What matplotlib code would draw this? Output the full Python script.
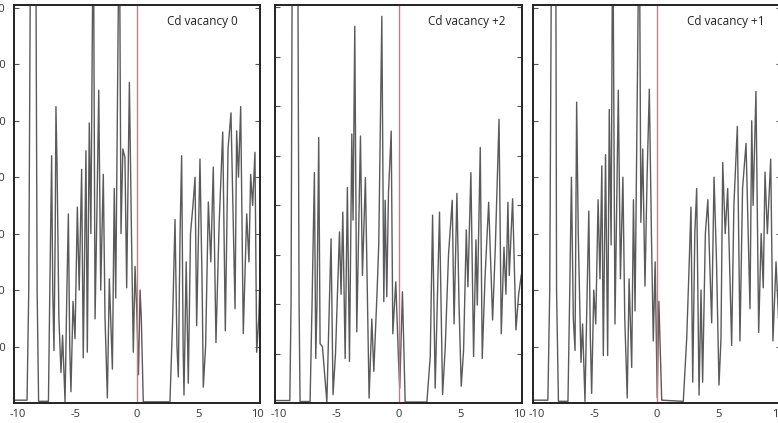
import matplotlib
matplotlib.use("Agg")
import matplotlib.pyplot as plt
from matplotlib.transforms import ScaledTranslation

# ---------------- data (polyline vertices (energy, DOS)) ----------------
titles = ["Cd vacancy 0", "Cd vacancy +2", "Cd vacancy +1"]
xticks = [-10, -5, 0, 5, 10]
xtick_labels = ["-10", "-5", "0", "5", "10"]

# Panel 1: Cd vacancy 0
dos_vac0 = [
    (-10, 0.5), (-8.94, 0.5), (-8.8, 20), (-8.64, 90), (-8.24, 90), (-8.12, 20), (-8.0, 0.3), (-7.2, 0.3),
    (-7.1, 18), (-6.94, 43.8), (-6.85, 20), (-6.75, 9.3), (-6.65, 30), (-6.59, 52.5), (-6.5, 42),
    (-6.35, 15), (-6.18, 5.4), (-6.05, 12), (-5.85, 0.2),
    (-5.7, 20), (-5.58, 33.5), (-5.47, 10), (-5.37, 2), (-5.2, 18), (-5.04, 11.4), (-4.85, 34.7),
    (-4.7, 20), (-4.5, 41.4), (-4.37, 8), (-4.15, 44.7), (-4.04, 9), (-3.88, 49.6), (-3.75, 30),
    (-3.55, 90), (-3.41, 14.9), (-3.25, 35), (-3.11, 55.4), (-2.95, 20), (-2.74, 40.5), (-2.6, 15),
    (-2.41, 0.9),
    (-2.25, 22), (-2.0, 6), (-1.85, 38), (-1.73, 18.6), (-1.44, 90), (-1.3, 30), (-1.15, 45),
    (-0.98, 43.5), (-0.84, 20.4), (-0.62, 56.8), (-0.45, 30), (-0.3, 9), (-0.16, 24.2), (0.0, 15),
    (0.12, 5), (0.25, 20), (0.35, 15), (0.51, 0.2), (2.68, 0.2),
    (2.9, 15), (3.09, 32.5), (3.25, 10), (3.36, 4.6), (3.5, 30), (3.63, 43.8), (3.75, 10), (3.82, 1.4),
    (4.0, 25), (4.17, 3.5), (4.35, 30), (4.55, 35), (4.72, 40), (4.85, 13.7), (5.12, 43.2), (5.3, 20),
    (5.39, 2.8), (5.58, 10.2), (5.8, 35.6), (6.0, 25), (6.2, 41.8), (6.42, 10.7), (6.67, 31.2),
    (6.97, 48), (7.18, 12.8), (7.4, 45), (7.64, 51.4), (7.97, 16.7), (8.1, 48.2), (8.25, 40),
    (8.43, 52.5), (8.64, 12.3), (8.92, 33.5), (9.1, 25), (9.24, 40.5), (9.4, 35), (9.59, 44.4),
    (9.73, 9), (9.9, 15), (10.0, 22),
]

# Panel 2: Cd vacancy +2
dos_vac2 = [
    (-10, 0.5), (-8.8, 0.5), (-8.7, 20), (-8.6, 95), (-8.16, 95), (-8.05, 20), (-7.97, 0.3), (-7.16, 0.3),
    (-7.0, 20), (-6.81, 46.6), (-6.7, 9), (-6.6, 20), (-6.46, 53.7), (-6.35, 12), (-6.16, 11.4),
    (-5.8, 0.2),
    (-5.6, 20), (-5.46, 33.2), (-5.3, 1.7), (-5.1, 10), (-4.78, 34.6), (-4.65, 22), (-4.51, 38.6),
    (-4.32, 9), (-4.14, 43.6), (-3.97, 8.4), (-3.78, 54.4), (-3.68, 37), (-3.54, 76.2), (-3.38, 14.4),
    (-3.08, 54), (-2.92, 25.8), (-2.68, 45.6), (-2.38, 1),
    (-2.16, 17), (-2.0, 6.4), (-1.73, 22.8), (-1.6, 32), (-1.35, 78.2), (-1.19, 20.5), (-1.08, 41),
    (-0.95, 21.5), (-0.81, 42.6), (-0.59, 55), (-0.46, 14), (-0.22, 24.5), (0.0, 8.7), (0.1, 3),
    (0.32, 22.5), (0.54, 0.2), (2.3, 0.2),
    (2.57, 9.4), (2.76, 38), (2.97, 3), (3.32, 38.6), (3.57, 1.7), (3.78, 11), (4.05, 30), (4.35, 41),
    (4.5, 16), (4.73, 42.4), (4.9, 20), (5.08, 3.4), (5.27, 10.7), (5.49, 35), (5.62, 23.5),
    (5.86, 46.6), (6.08, 9.4), (6.27, 33), (6.38, 19.8), (6.62, 51.7), (6.78, 9), (7.0, 25),
    (7.3, 40.6), (7.62, 16.8), (7.84, 31.5), (8.14, 57.4), (8.32, 14), (8.54, 31.5), (8.7, 22),
    (8.86, 40.6), (8.97, 25.8), (9.24, 41.3), (9.51, 14.8), (9.73, 22), (9.95, 26), (10.0, 24),
]

# Panel 3: Cd vacancy +1
dos_vac1 = [
    (-10, 0.5), (-8.8, 0.5), (-8.65, 20), (-8.49, 90), (-8.17, 90), (-8.1, 20), (-7.95, 0.3), (-7.18, 0.3),
    (-7.05, 18), (-6.9, 40), (-6.75, 15), (-6.61, 9.3), (-6.55, 30), (-6.48, 53.3), (-6.35, 30),
    (-6.13, 7.2), (-6.0, 14), (-5.81, 0.3),
    (-5.65, 18), (-5.5, 34), (-5.38, 12), (-5.27, 1.7), (-5.1, 20), (-4.94, 14), (-4.75, 36),
    (-4.6, 22), (-4.45, 42), (-4.33, 8.4), (-4.15, 44), (-3.98, 8.4), (-3.85, 52), (-3.7, 28),
    (-3.57, 90), (-3.39, 14), (-3.25, 35), (-3.12, 55.4), (-2.95, 22), (-2.75, 40), (-2.6, 15),
    (-2.4, 0.9),
    (-2.25, 22), (-2.04, 6.3), (-1.9, 36), (-1.77, 16.3), (-1.43, 90), (-1.3, 32), (-1.15, 45),
    (-0.97, 20.7), (-0.8, 40), (-0.62, 55.6), (-0.45, 30), (-0.3, 11), (-0.15, 25), (0.02, 0.9),
    (0.15, 18), (0.38, 0.5), (2.12, 0.3),
    (2.4, 11.6), (2.6, 25), (2.74, 34.7), (2.88, 3.7), (3.05, 30), (3.2, 38), (3.39, 1.4), (3.55, 20),
    (3.68, 3.7), (3.9, 30), (4.1, 36), (4.25, 25), (4.41, 14.2), (4.6, 40), (4.8, 25), (5.0, 3.2),
    (5.16, 11.4), (5.3, 42.6), (5.5, 30), (5.7, 38), (6.02, 10.2), (6.2, 35), (6.48, 49), (6.69, 11),
    (6.9, 38), (7.18, 46), (7.5, 16.7), (7.64, 50), (7.75, 35), (7.98, 55.2), (8.2, 12.5), (8.4, 30),
    (8.57, 20.4), (8.71, 40.9), (8.9, 30), (9.17, 43.2), (9.35, 11), (9.6, 25), (9.8, 15), (10.0, 25),
]

panels = [dos_vac0, dos_vac2, dos_vac1]
ylims = [70.5, 80.5, 70.5]
yticks_list = [[10, 20, 30, 40, 50, 60, 70],
               [10, 20, 30, 40, 50, 60, 70, 80],
               [10, 20, 30, 40, 50, 60, 70]]

# ---------------- figure ----------------
W, H = 778, 423
fig = plt.figure(figsize=(W / 100, H / 100), dpi=100)
plt.rcParams['font.family'] = ['Open Sans', 'DejaVu Sans']

boxes = [(14, 246), (275, 247), (533, 248)]
top_px, bottom_px = 5, 403
for i, (left_px, w_px) in enumerate(boxes):
    ax = fig.add_axes([left_px / W, (H - bottom_px) / H, w_px / W, (bottom_px - top_px) / H])
    xs = [p[0] for p in panels[i]]
    ys = [p[1] for p in panels[i]]
    ax.plot(xs, ys, color="#5a5a5a", lw=1.0)
    ax.axvline(0, color="#e07080", lw=1.0)
    ax.set_xlim(-10, 10)
    ax.set_ylim(0, ylims[i])
    ax.set_xticks(xticks)
    ax.set_xticklabels(xtick_labels, fontsize=8, color="#333333")
    ax.set_yticks(yticks_list[i])
    if i == 0:
        ax.set_yticklabels([str(v) for v in yticks_list[i]], fontsize=8, color="#333333")
    else:
        ax.set_yticklabels([])
    ax.tick_params(axis="y", direction="in", length=3.5, width=0.8, color="#555555",
                   left=True, right=True, pad=6)
    ax.tick_params(axis="x", length=0, pad=4)
    # nudge the end labels apart so neighbouring panels' "10" and "-10" don't collide
    labels = ax.get_xticklabels()
    labels[0].set_transform(labels[0].get_transform() +
                            ScaledTranslation(4 / 100, 0, fig.dpi_scale_trans))
    labels[-1].set_transform(labels[-1].get_transform() +
                             ScaledTranslation(-3 / 100, 0, fig.dpi_scale_trans))
    for s in ax.spines.values():
        s.set_linewidth(1.4)
        s.set_color("#222222")
    ax.text(0.62, 0.975, titles[i], transform=ax.transAxes, fontsize=8.5,
            color="#222222", ha="left", va="top")

fig.savefig("out.png", dpi=100)
